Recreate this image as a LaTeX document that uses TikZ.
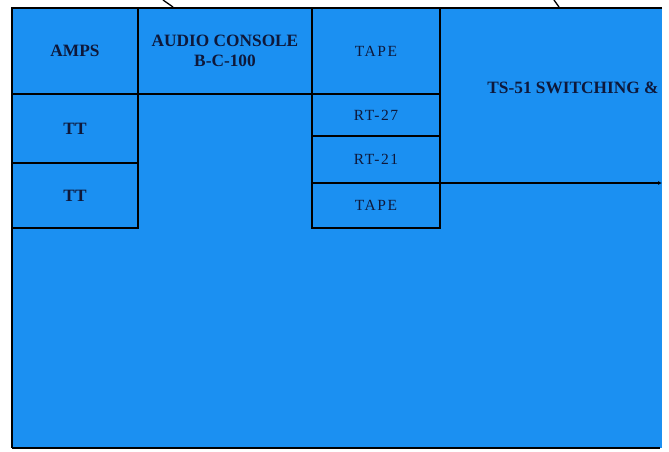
\documentclass[tikz,border=0pt]{standalone}
\usepackage{fontspec}
\setmainfont{Liberation Serif}
\newfontfamily\spacedfont[LetterSpace=10]{Liberation Serif}
\usetikzlibrary{arrows.meta}
\definecolor{panelblue}{RGB}{27,144,242}
\definecolor{inkblue}{RGB}{14,24,58}
\tikzset{
  cell/.style={draw=black, line width=2.4pt, fill=panelblue, inner sep=0pt, text=inkblue, align=center},
  boldlbl/.style={font=\fontsize{17.3}{20}\selectfont\bfseries},
  thinlbl/.style={font=\fontsize{15.5}{18}\selectfont\spacedfont},
  frameline/.style={draw=black, line width=2.6pt},
  wire/.style={draw=black, line width=1.3pt}
}
\begin{document}
\begin{tikzpicture}[x=1pt,y=-1pt]
\useasboundingbox (0,0) rectangle (669,451);
% background panel
\fill[panelblue] (12,8) rectangle (662,448);
% left column
\node[cell, boldlbl, minimum width=126pt, minimum height=86pt] (amps) at (75,51) {AMPS};
\node[cell, boldlbl, minimum width=126pt, minimum height=69pt] (tta) at (75,128.5) {TT};
\node[cell, boldlbl, minimum width=126pt, minimum height=65pt] (ttb) at (75,195.5) {TT};
% console
\node[cell, boldlbl, minimum width=174pt, minimum height=86pt] (console) at (225,51) {AUDIO CONSOLE\\B-C-100};
% tape column
\node[cell, thinlbl, minimum width=128pt, minimum height=86pt] (tapea) at (376,51) {TAPE};
\node[cell, thinlbl, minimum width=128pt, minimum height=42pt] (rta) at (376,115) {RT-27};
\node[cell, thinlbl, minimum width=128pt, minimum height=47pt] (rtb) at (376,159.5) {RT-21};
\node[cell, thinlbl, minimum width=128pt, minimum height=45pt] (tapeb) at (376,205.5) {TAPE};
% switching label
\node[boldlbl, text=inkblue, inner sep=0pt] (ts) at (573,88) {TS-51 SWITCHING \&};
% outer frame lines
\coordinate (tl) at (12,8);
\coordinate (tr) at (662,8);
\coordinate (bl) at (12,448);
\coordinate (br) at (660,448);
\draw[frameline] (tr) -- (tl) -- (bl);
\draw[black, line width=1.4pt] (bl) -- (br);
% line from tape column to right edge
\coordinate (rend) at (662,183);
\coordinate (rstart) at (440,183);
\draw[wire, -{Latex[length=4pt,width=4pt]}] (rstart) -- (rend);
% wires leaving the top
\coordinate (wa0) at (163,0);
\coordinate (wa1) at (173,7);
\coordinate (wb0) at (554,0);
\coordinate (wb1) at (559,7);
\draw[wire] (wa0) -- (wa1);
\draw[wire] (wb0) -- (wb1);
\end{tikzpicture}
\end{document}
